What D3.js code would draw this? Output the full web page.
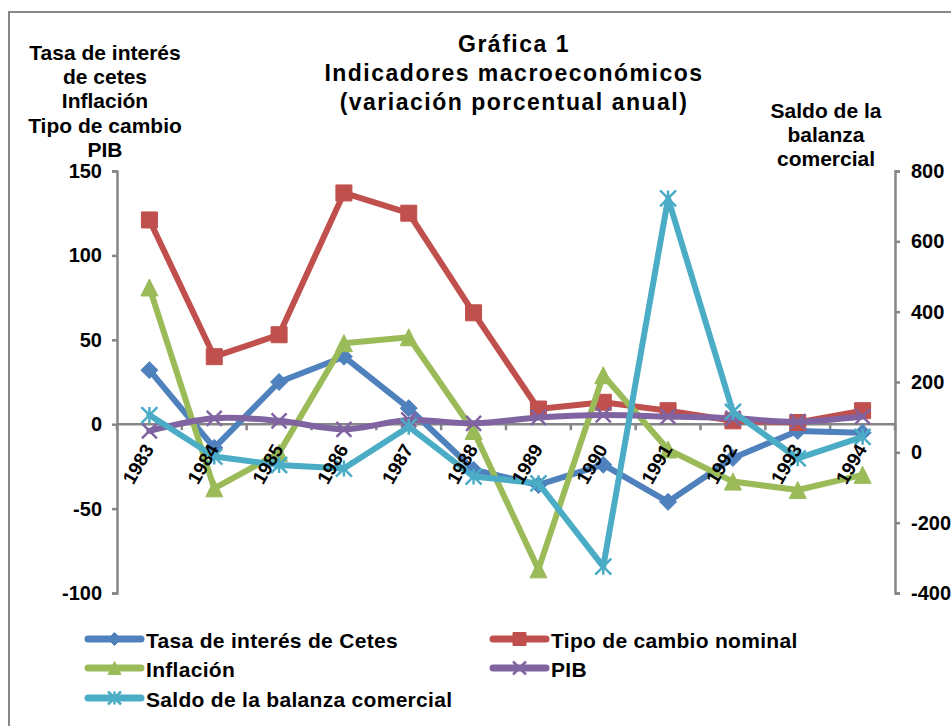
<!DOCTYPE html>
<html><head><meta charset="utf-8">
<script src="https://cdn.jsdelivr.net/npm/d3@7"></script>
<style>
html,body{margin:0;padding:0;background:#fff;}
svg text{font-family:"Liberation Sans",Arial,sans-serif;font-weight:bold;fill:#000;}
</style></head>
<body>
<svg id="chart" width="951" height="726"></svg>
<script>
const years = ["1983","1984","1985","1986","1987","1988","1989","1990","1991","1992","1993","1994"];
const cetes = [32, -14, 25, 40, 9.5, -27, -36, -24, -46, -20, -4, -5];
const tipoCambio = [121, 40, 53, 137, 125, 66, 9, 13, 8, 2, 1, 8];
const inflacion = [81, -38, -17, 48, 51.5, -4, -86, 29, -15, -34, -39, -30];
const pib = [-4, 3.5, 2, -3, 2.5, 0.5, 4, 5.5, 4.5, 3.5, 1.5, 4.5];
const saldo = [106, -12, -36, -46, 73, -69, -88, -325, 722, 115, -17, 44];
const leftTicks = [-100, -50, 0, 50, 100, 150];
const rightTicks = [-400, -200, 0, 200, 400, 600, 800];
const titleLines = ["Gráfica 1", "Indicadores macroeconómicos", "(variación porcentual  anual)"];
const leftTitle = ["Tasa de interés", "de cetes", "Inflación", "Tipo de cambio", "PIB"];
const rightTitle = ["Saldo de la", "balanza", "comercial"];

const series = [
  {name:"Tasa de interés de Cetes", values:cetes, color:"#4F81BD", marker:"diamond", axis:"left"},
  {name:"Tipo de cambio nominal", values:tipoCambio, color:"#C0504D", marker:"square", axis:"left"},
  {name:"Inflación", values:inflacion, color:"#9BBB59", marker:"triangle", axis:"left"},
  {name:"PIB", values:pib, color:"#8064A2", marker:"x", axis:"left", smooth:true},
  {name:"Saldo de la balanza comercial", values:saldo, color:"#4BACC6", marker:"star", axis:"right"}
];

const svg = d3.select("#chart");
const X0 = 117, X1 = 895, YT = 171, YB = 593;
const axisColor = "#868686";

// outer border
svg.append("rect").attr("x",9).attr("y",12).attr("width",1000).attr("height",1000)
  .attr("fill","none").attr("stroke",axisColor).attr("stroke-width",2);

const x = d3.scaleBand().domain(years).range([X0, X1]);
const xc = d => x(d) + x.bandwidth()/2;
const yL = d3.scaleLinear().domain([-100,150]).range([YB, YT]);
const yR = d3.scaleLinear().domain([-400,800]).range([YB, YT]);

const fmt = d => String(d);
const gL = svg.append("g").attr("transform",`translate(${X0},0)`)
  .call(d3.axisLeft(yL).tickValues(leftTicks).tickFormat(fmt).tickSize(5).tickPadding(10));
const gR = svg.append("g").attr("transform",`translate(${X1},0)`)
  .call(d3.axisRight(yR).tickValues(rightTicks).tickFormat(fmt).tickSize(5).tickPadding(11));
[gL,gR].forEach(g=>{
  g.select(".domain").attr("stroke",axisColor).attr("stroke-width",2.5);
  g.selectAll(".tick line").attr("stroke",axisColor).attr("stroke-width",2.5);
  g.selectAll(".tick text").style("font-size","20px").style("font-family","Liberation Sans, Arial").style("font-weight","bold").attr("fill","#000");
});

// category axis at zero
const y0 = yL(0);
svg.append("line").attr("x1",X0).attr("x2",X1).attr("y1",y0).attr("y2",y0)
  .attr("stroke",axisColor).attr("stroke-width",2.5);
const bounds = years.map(d=>x(d)).concat([X1]);
svg.append("g").selectAll("line").data(bounds).join("line")
  .attr("x1",d=>d).attr("x2",d=>d).attr("y1",y0).attr("y2",y0+6)
  .attr("stroke",axisColor).attr("stroke-width",2.5);

function markerPath(type, s){
  const h = s/2;
  switch(type){
    case "diamond": return `M0,${-h}L${h},0L0,${h}L${-h},0Z`;
    case "square": return `M${-h},${-h}H${h}V${h}H${-h}Z`;
    case "triangle": return `M0,${-h}L${h},${h}L${-h},${h}Z`;
    case "x": return `M${-h},${-h}L${h},${h}M${h},${-h}L${-h},${h}`;
    case "star": return `M${-h},${-h}L${h},${h}M${h},${-h}L${-h},${h}M0,${-h}V${h}`;
  }
}
const mSize = {diamond:17, square:16, triangle:17, x:15, star:16};

const gS = svg.append("g");
series.forEach(s=>{
  const ys = s.axis==="left" ? yL : yR;
  const line = d3.line().x((d,i)=>xc(years[i])).y(d=>ys(d));
  if (s.smooth) line.curve(d3.curveCatmullRom.alpha(0.5));
  gS.append("path").datum(s.values).attr("d",line)
    .attr("fill","none").attr("stroke",s.color).attr("stroke-width",6)
    .attr("stroke-linejoin","round").attr("stroke-linecap","round");
  const open = (s.marker==="x"||s.marker==="star");
  gS.append("g").selectAll("path").data(s.values).join("path")
    .attr("transform",(d,i)=>`translate(${xc(years[i])},${ys(d)})`)
    .attr("d",markerPath(s.marker, mSize[s.marker]))
    .attr("fill", open ? "none" : s.color)
    .attr("stroke", s.color).attr("stroke-width", open ? 2.5 : 1);
});

// category labels
svg.append("g").selectAll("text").data(years).join("text")
  .attr("transform",d=>`translate(${xc(d)+5},449) rotate(-60)`)
  .attr("text-anchor","end").style("font-size","19px").text(d=>d);

// titles
svg.append("g").selectAll("text").data(titleLines).join("text")
  .attr("x",514).attr("y",(d,i)=>52+i*29).attr("text-anchor","middle")
  .style("font-size","23px").style("letter-spacing","1.5px").text(d=>d);
svg.append("g").selectAll("text").data(leftTitle).join("text")
  .attr("x",105).attr("y",(d,i)=>60+i*24.2).attr("text-anchor","middle")
  .style("font-size","21px").text(d=>d);
svg.append("g").selectAll("text").data(rightTitle).join("text")
  .attr("x",826).attr("y",(d,i)=>118+i*24).attr("text-anchor","middle")
  .style("font-size","21px").text(d=>d);

// legend
const legPos = [[85,639],[490,639],[85,668],[490,668],[85,698]];
const gLeg = svg.append("g");
series.forEach((s,i)=>{
  const [lx,ly] = legPos[i];
  const g = gLeg.append("g").attr("transform",`translate(${lx},${ly})`);
  g.append("line").attr("x1",3).attr("x2",56).attr("y1",0).attr("y2",0)
    .attr("stroke",s.color).attr("stroke-width",7).attr("stroke-linecap","round");
  const open = (s.marker==="x"||s.marker==="star");
  g.append("path").attr("transform","translate(29.5,0)").attr("d",markerPath(s.marker, 13))
    .attr("fill", open ? "none" : s.color).attr("stroke",s.color).attr("stroke-width",open?2.5:1);
  g.append("text").attr("x",61).attr("y",8.5).style("font-size","21px").style("letter-spacing","0.3px").text(s.name);
});
</script>
</body></html>
